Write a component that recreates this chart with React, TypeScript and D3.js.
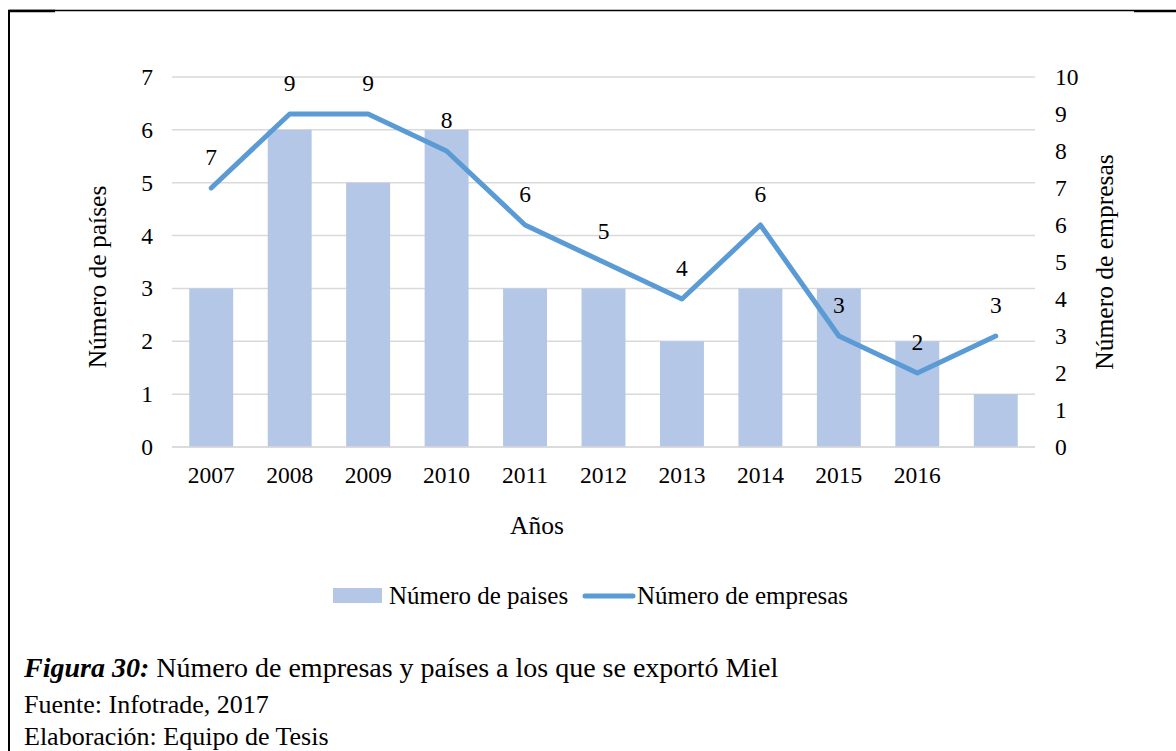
import React from "react";
import * as d3 from "d3";

const years = ["2007", "2008", "2009", "2010", "2011", "2012", "2013", "2014", "2015", "2016", ""];
const paises = [3, 6, 5, 6, 3, 3, 2, 3, 3, 2, 1];
const empresas = [7, 9, 9, 8, 6, 5, 4, 6, 3, 2, 3];
const leftTicks = [0, 1, 2, 3, 4, 5, 6, 7];
const rightTicks = [0, 1, 2, 3, 4, 5, 6, 7, 8, 9, 10];

const W = 1176;
const H = 751;
const FONT = "'Liberation Serif', 'Times New Roman', serif";
const BAR = "#B4C7E7";
const LINE = "#5B9BD5";
const GRID = "#D9D9D9";
const TICK_FS = 23.5;
const TITLE_FS = 25.5;
const CAP_FS = 28;
const SRC_FS = 26;

export default function App() {
  const x0 = 172, x1 = 1035, yTop = 77, yBot = 447;
  const x = d3.scaleBand<number>().domain(d3.range(years.length)).range([x0, x1]).paddingInner(0.44).paddingOuter(0.22);
  const xc = (i: number) => (x(i) as number) + x.bandwidth() / 2;
  const yL = d3.scaleLinear().domain([0, 7]).range([yBot, yTop]);
  const yR = d3.scaleLinear().domain([0, 10]).range([yBot, yTop]);
  const line = d3.line<number>().x((_, i) => xc(i)).y((d) => yR(d));

  return (
    <svg width={W} height={H} style={{ position: "absolute", left: 0, top: 0 }} fontFamily={FONT}>
      <rect x={0} y={0} width={W} height={H} fill="#fff" />
      {/* frame */}
      <line x1={9} y1={10} x2={9} y2={H} stroke="#000" strokeWidth={2} />
      <line x1={9} y1={10.5} x2={1134} y2={10.5} stroke="#000" strokeWidth={1.3} />
      <line x1={8} y1={11} x2={55} y2={11} stroke="#000" strokeWidth={2.4} />
      <line x1={1134} y1={11} x2={W} y2={11} stroke="#000" strokeWidth={2.4} />

      {/* gridlines */}
      {leftTicks.map((t) => (
        <line key={"g" + t} x1={x0} x2={x1} y1={yL(t)} y2={yL(t)} stroke={GRID} strokeWidth={1.5} />
      ))}
      {/* bars */}
      {paises.map((v, i) => (
        <rect key={"b" + i} x={x(i)} y={yL(v)} width={x.bandwidth()} height={yBot - yL(v)} fill={BAR} />
      ))}
      <line x1={x0} x2={x1} y1={yBot} y2={yBot} stroke={GRID} strokeWidth={1.5} />
      {/* line */}
      <path d={line(empresas) || ""} fill="none" stroke={LINE} strokeWidth={5} strokeLinecap="round" strokeLinejoin="round" />
      {empresas.map((v, i) => (
        <text key={"l" + i} x={xc(i)} y={yR(v) - 23} fontSize={TICK_FS} textAnchor="middle" fill="#000">
          {v}
        </text>
      ))}
      {/* left ticks */}
      {leftTicks.map((t) => (
        <text key={"lt" + t} x={153} y={yL(t) + 8} fontSize={TICK_FS} textAnchor="end" fill="#000">
          {t}
        </text>
      ))}
      {rightTicks.map((t) => (
        <text key={"rt" + t} x={1055} y={yR(t) + 8} fontSize={TICK_FS} textAnchor="start" fill="#000">
          {t}
        </text>
      ))}
      {years.map((yv, i) => (
        <text key={"x" + i} x={xc(i)} y={483} fontSize={TICK_FS} textAnchor="middle" fill="#000">
          {yv}
        </text>
      ))}
      {/* axis titles */}
      <text transform="translate(106,277) rotate(-90)" fontSize={TITLE_FS} textAnchor="middle" fill="#000">
        Número de países
      </text>
      <text transform="translate(1113,262) rotate(-90)" fontSize={TITLE_FS} textAnchor="middle" fill="#000">
        Número de empresas
      </text>
      <text x={537} y={534} fontSize={TITLE_FS} textAnchor="middle" fill="#000">
        Años
      </text>
      {/* legend */}
      <rect x={333} y={588} width={49} height={15} fill={BAR} />
      <text x={389} y={604} fontSize={25} fill="#000">
        Número de paises
      </text>
      <line x1={585} x2={633} y1={596} y2={596} stroke={LINE} strokeWidth={5} strokeLinecap="round" />
      <text x={637} y={604} fontSize={25} fill="#000">
        Número de empresas
      </text>
      {/* caption */}
      <text x={24} y={677} fontSize={CAP_FS} fill="#000">
        <tspan fontWeight="bold" fontStyle="italic">Figura 30:</tspan>
        <tspan> Número de empresas y países a los que se exportó Miel</tspan>
      </text>
      <text x={24} y={713} fontSize={SRC_FS} fill="#000">
        Fuente: Infotrade, 2017
      </text>
      <text x={24} y={745} fontSize={SRC_FS} fill="#000">
        Elaboración: Equipo de Tesis
      </text>
    </svg>
  );
}
